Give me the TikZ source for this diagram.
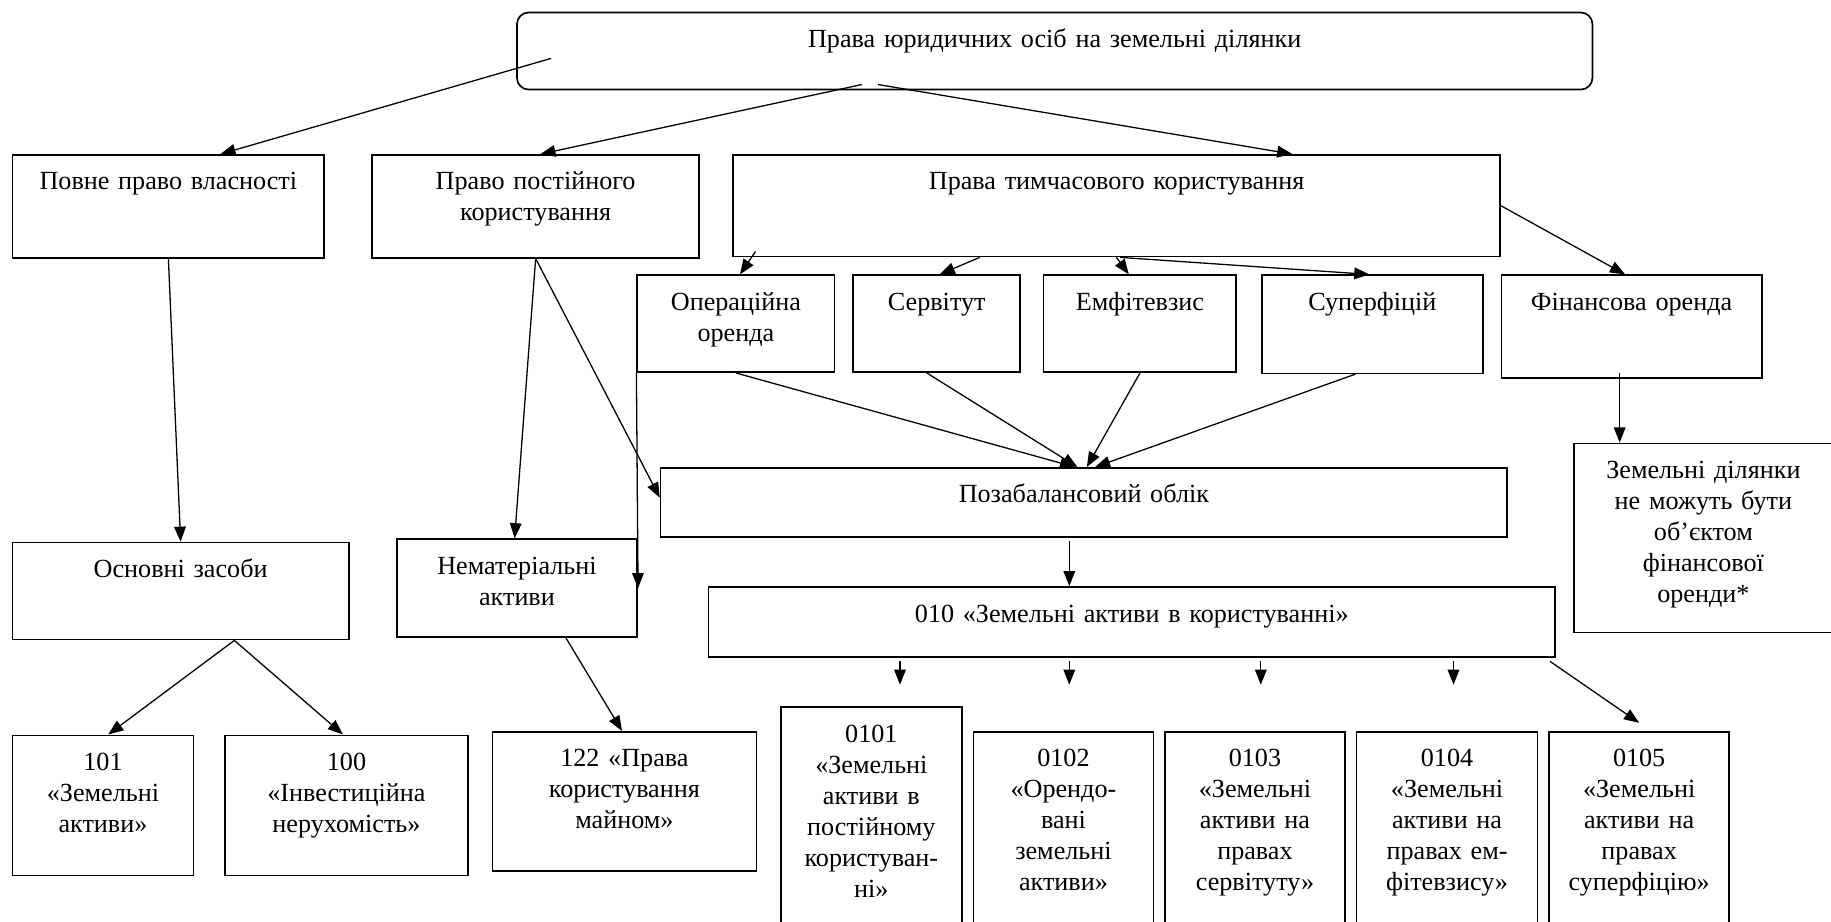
\documentclass[tikz,border=0pt]{standalone}
\usepackage{fontspec}
\setmainfont{Liberation Serif}
\usetikzlibrary{arrows.meta}
\tikzset{
  bx/.style={draw, line width=1.4pt, anchor=north west, inner sep=0pt, align=center,
    text height=30pt, font=\fontsize{22.4}{26.5}\selectfont},
}
\begin{document}
\begin{tikzpicture}[x=1pt, y=-1pt, >={Triangle[length=13pt,width=10pt]}, line width=1.1pt]
\useasboundingbox (0,0) rectangle (1568,789);
% top
\node[bx, rounded corners=10pt, text width=921pt, text depth=36pt] (prava) at (442,10) {Права юридичних осіб на земельні ділянки};
% kinds of rights
\node[bx, text width=267pt, text depth=58pt] (povne) at (10,132) {Повне право власності};
\node[bx, text width=280pt, text depth=58pt] (postiyne) at (318,132) {Право постійного\\користування};
\node[bx, text width=657pt, text depth=57pt] (tymch) at (627,132) {Права тимчасового користування};
\node[bx, text width=169pt, text depth=53pt] (oper) at (545,235) {Операційна\\оренда};
\node[bx, text width=143pt, text depth=53pt] (servitut) at (730,235) {Сервітут};
\node[bx, text width=165pt, text depth=53pt] (emfit) at (893,235) {Емфітевзис};
\node[bx, text width=189pt, text depth=54pt] (superf) at (1080,235) {Суперфіцій};
\node[bx, text width=223pt, text depth=58pt] (finans) at (1285,235) {Фінансова оренда};
\node[bx, text width=222pt, text depth=132pt] (nemozh) at (1347,379) {Земельні ділянки\\не можуть бути\\об’єктом\\фінансової\\оренди*};
% accounting
\node[bx, text width=725pt, text depth=29pt] (pozabal) at (565,400) {Позабалансовий облік};
\node[bx, text width=725pt, text depth=30pt] (z010) at (606,502) {010 «Земельні активи в користуванні»};
\node[bx, text width=288pt, text depth=53pt] (osnovni) at (10,464) {Основні засоби};
\node[bx, text width=206pt, text depth=54pt] (nemat) at (339,461) {Нематеріальні\\активи};
\node[bx, text width=155pt, text depth=90pt] (b101) at (10,629) {101\\«Земельні\\активи»};
\node[bx, text width=208pt, text depth=90pt] (b100) at (192,629) {100\\«Інвестиційна\\нерухомість»};
\node[bx, text width=226pt, text depth=89pt] (b122) at (421,626) {122 «Права\\користування\\майном»};
\node[bx, text width=155pt, text depth=170pt] (b0101) at (668,605) {0101\\«Земельні\\активи в\\постійному\\користуван-\\ні»};
\node[bx, text width=154pt, text depth=150pt] (b0102) at (833,626) {0102\\«Орендо-\\вані\\земельні\\активи»};
\node[bx, text width=154pt, text depth=150pt] (b0103) at (997,626) {0103\\«Земельні\\активи на\\правах\\сервітуту»};
\node[bx, text width=155pt, text depth=150pt] (b0104) at (1161,626) {0104\\«Земельні\\активи на\\правах ем-\\фітевзису»};
\node[bx, text width=154pt, text depth=150pt] (b0105) at (1326,626) {0105\\«Земельні\\активи на\\правах\\суперфіцію»};
% arrows
\draw[->] ([xshift=30pt,yshift=-40pt]prava.north west) -- ([xshift=44.5pt]povne.north);
\draw[->] ([xshift=296pt,yshift=5pt]prava.south west) -- ([xshift=4pt]postiyne.north);
\draw[->] ([xshift=310pt,yshift=5pt]prava.south west) -- ([xshift=150.5pt]tymch.north);
\draw[->] ([xshift=20pt,yshift=5pt]tymch.south west) -- ([xshift=3.5pt]oper.north);
\draw[->] ([xshift=212pt]tymch.south west) -- ([xshift=2.5pt]servitut.north);
\draw[->] ([xshift=329pt]tymch.south west) -- ([xshift=-9.5pt]emfit.north);
\draw[->] ([xshift=332pt]tymch.south west) -- ([xshift=-2.5pt]superf.north);
\draw[->] (tymch.east) -- ([xshift=-5.5pt]finans.north);
\draw[->] ([xshift=102pt,yshift=5pt]finans.south west) -- ([xshift=40pt]nemozh.north west);
\draw[->] (oper.south) -- ([xshift=-7.5pt]pozabal.north);
\draw[->] ([xshift=-8.5pt]servitut.south) -- ([xshift=-5.5pt]pozabal.north);
\draw[->] (emfit.south) -- ([xshift=2.5pt]pozabal.north);
\draw[->] ([xshift=-14.5pt]superf.south) -- ([xshift=9.5pt]pozabal.north);
\draw[->] (postiyne.south) -- ([xshift=-2pt]nemat.north);
\draw[->] (postiyne.south) -- ([yshift=4pt]pozabal.west);
\draw[->] (oper.south west) -- (nemat.east);
\draw[->] (povne.south) -- (osnovni.north);
\draw[->] ([xshift=46pt]osnovni.south) -- ([xshift=4.5pt]b101.north);
\draw[->] ([xshift=46pt]osnovni.south) -- ([xshift=-3pt]b100.north);
\draw[->] ([xshift=42pt]nemat.south) -- ([xshift=-2pt]b122.north);
\draw[->] ([xshift=-12.5pt,yshift=-3pt]pozabal.south) -- ([xshift=-53.5pt]z010.north);
\foreach \b/\dx in {b0101/24.5,b0102/5,b0103/5,b0104/5.5}
  \draw[->] ([xshift=\dx pt,yshift=-3pt]z010.south -| \b.north) -- ([xshift=\dx pt,yshift=-23pt]z010.south -| \b.north);
\draw[->] ([xshift=-5pt,yshift=-3pt]z010.south east) -- ([yshift=7pt]b0105.north);
\end{tikzpicture}
\end{document}
